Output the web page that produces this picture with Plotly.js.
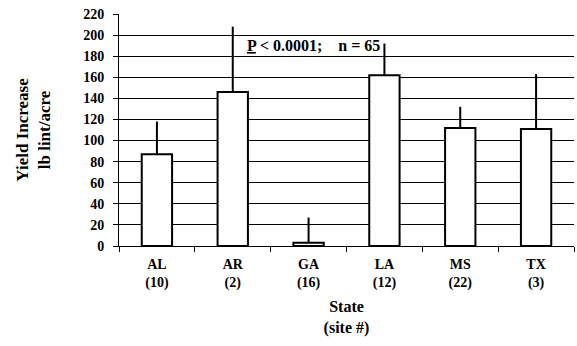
<!DOCTYPE html>
<html>
<head>
<meta charset="utf-8">
<script src="https://cdn.plot.ly/plotly-3.0.1.min.js"></script>
<style>html,body{margin:0;padding:0;background:#fff;}#chart{width:577px;height:346px;}</style>
</head>
<body>
<div id="chart"></div>
<script>
const states = ["AL", "AR", "GA", "LA", "MS", "TX"];
const sites = [10, 2, 16, 12, 22, 3];
const yieldIncrease = [87, 146, 3, 162, 112, 111];
const errorPlus = [31, 62, 24, 30, 20, 52];
const yTicks = [0, 20, 40, 60, 80, 100, 120, 140, 160, 180, 200, 220];

const tickText = states.map((s, i) => s + "<br>(" + sites[i] + ")");
const F = "Liberation Serif, Times New Roman, serif";

const trace = {
  type: "bar",
  x: states,
  y: yieldIncrease,
  marker: { color: "#ffffff", line: { color: "#000000", width: 2 } },
  error_y: { type: "data", symmetric: false, array: errorPlus, arrayminus: errorPlus.map(() => 0), color: "#000000", thickness: 2, width: 0 },
  hoverinfo: "none"
};

const layout = {
  width: 577, height: 346,
  margin: { l: 119, r: 3, t: 14, b: 100 },
  paper_bgcolor: "#ffffff", plot_bgcolor: "#ffffff",
  showlegend: false,
  bargap: 0.6,
  font: { family: F, color: "#000000", weight: "bold" },
  xaxis: {
    type: "category",
    tickmode: "array", tickvals: states, ticktext: tickText,
    tickson: "boundaries", ticks: "outside", ticklen: 5, tickcolor: "#000", tickwidth: 1,
    ticklabelstandoff: 5,
    showline: true, linecolor: "#000", linewidth: 1,
    showgrid: false, zeroline: false,
    tickfont: { family: F, size: 14, weight: "bold" },
    title: { text: "State<br>(site #)", font: { family: F, size: 16, weight: "bold" }, standoff: 10 }
  },
  yaxis: {
    range: [0, 220], tickmode: "array", tickvals: yTicks,
    ticks: "outside", ticklen: 5, tickcolor: "#000", tickwidth: 1,
    ticklabelstandoff: 6,
    showline: true, linecolor: "#000", linewidth: 1,
    showgrid: true, gridcolor: "#000", gridwidth: 1,
    zeroline: false,
    tickfont: { family: F, size: 14, weight: "bold" },
    title: { text: "Yield Increase<br>lb lint/acre", font: { family: F, size: 17, weight: "bold" }, standoff: 28 }
  },
  annotations: [{
    xref: "paper", yref: "y", x: 0.276, y: 190, xanchor: "left", yanchor: "middle",
    text: "<u>P</u> &lt; 0.0001;&nbsp;&nbsp;&nbsp; n = 65", showarrow: false,
    font: { family: F, size: 16, weight: "bold", color: "#000" }
  }]
};

Plotly.newPlot("chart", [trace], layout, { displayModeBar: false, staticPlot: true });
</script>
</body>
</html>
